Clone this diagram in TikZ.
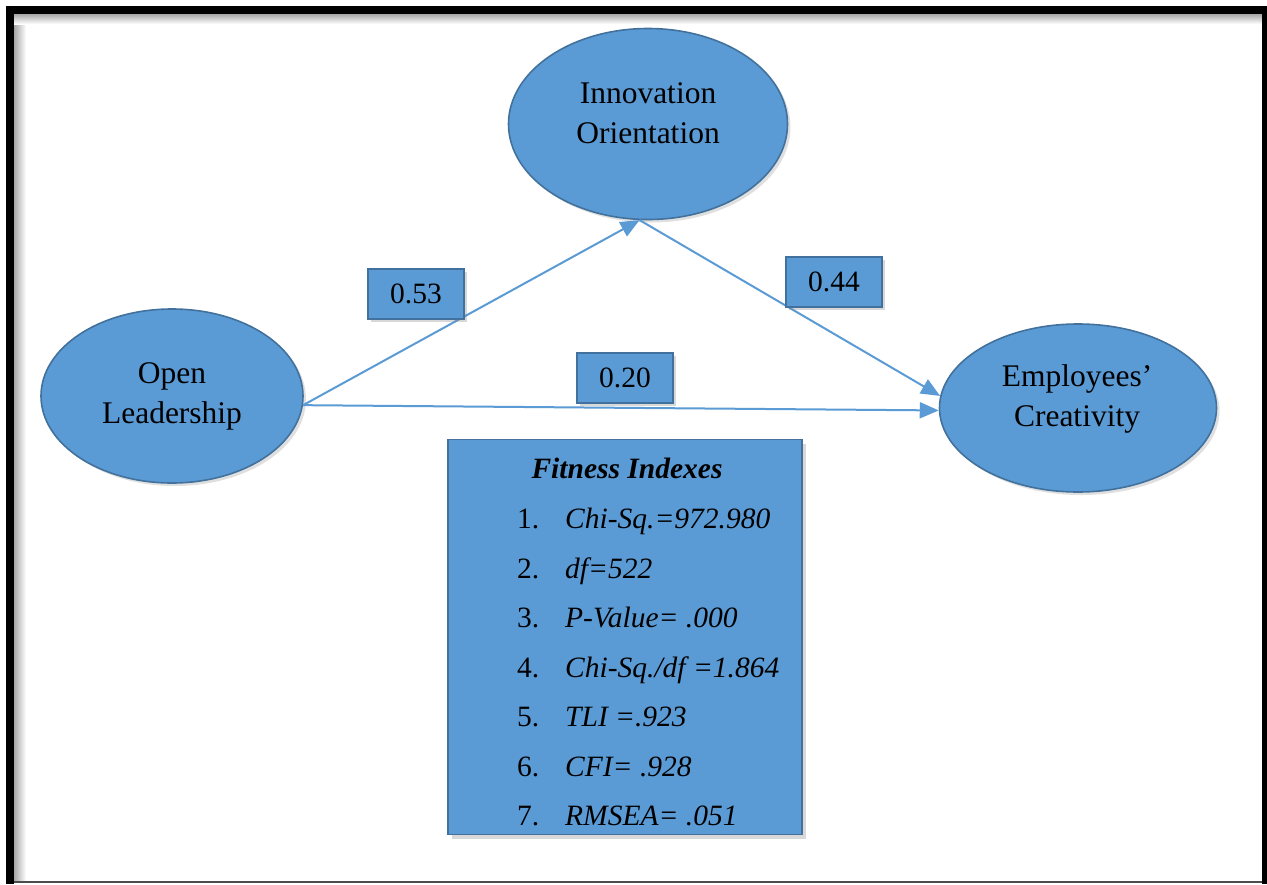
\documentclass[tikz,border=0pt]{standalone}
\usepackage{fontspec}
\setmainfont{Liberation Serif}
\usetikzlibrary{shapes.geometric,arrows.meta,shadows}
\definecolor{fillblue}{HTML}{5B9BD5}
\definecolor{edgeblue}{HTML}{41719C}
\definecolor{lineblue}{HTML}{5B9BD5}
\tikzset{
  ell/.style={ellipse,draw=edgeblue,line width=1.6pt,fill=fillblue,inner sep=0pt,
    drop shadow={shadow xshift=3pt,shadow yshift=-3pt,opacity=0.25}},
  ltext/.style={align=center,font=\fontsize{31.5}{40}\selectfont,inner sep=0pt},
  valbox/.style={draw=edgeblue,line width=1.6pt,fill=fillblue,minimum width=96pt,minimum height=50pt,
    inner sep=0pt,font=\fontsize{29.5}{32}\selectfont,
    drop shadow={shadow xshift=3pt,shadow yshift=-3pt,opacity=0.3}},
  conn/.style={draw=lineblue,line width=2pt,-{Triangle[length=19pt,width=16pt]}},
  idx/.style={anchor=base west,inner sep=0pt,font=\fontsize{29.5}{32}\selectfont},
}
\begin{document}
\begin{tikzpicture}[x=1pt,y=-1pt]
\useasboundingbox (0,0) rectangle (1267,884);
\fill[white] (0,0) rectangle (1267,884);
% inner shadow of frame
\shade[left color=black!35,right color=white] (14,14) rectangle (26,880);
\shade[top color=black!35,bottom color=white] (14,14) rectangle (1262,24);
% frame
\fill[black] (6,6) rectangle (1267,14);
\fill[black] (6,6) rectangle (14,884);
\fill[black] (1262,6) rectangle (1267,884);
\draw[black!70,line width=1.2pt] (14,882) -- (1262,882);

% ellipses
\node[ell,minimum width=279pt,minimum height=191pt] (IO) at (648,124) {};
\node[ltext] (IOt) at (648,113) {Innovation\\Orientation};
\node[ell,minimum width=262pt,minimum height=174pt] (OL) at (172,396) {};
\node[ltext] (OLt) at (172,396) {Open\\Leadership};
\node[ell,minimum width=277pt,minimum height=168pt] (EC) at (1078,408) {};
\node[ltext] (ECt) at (1077,399) {Employees'\\Creativity};

% connectors
\draw[conn] (OL.-4) -- (IO.265);
\draw[conn] (IO.265) -- (EC.175);
\draw[conn] (OL.-4) -- (EC.181);

% value boxes
\node[valbox] (v53) at (416,294) {0.53};
\node[valbox] (v44) at (834,282) {0.44};
\node[valbox] (v20) at (625,378) {0.20};

% fitness box
\node[draw=edgeblue,line width=1.6pt,fill=fillblue,minimum width=354pt,minimum height=395pt,inner sep=0pt,
  drop shadow={shadow xshift=4pt,shadow yshift=-4pt,opacity=0.3}] (FI) at (625,637) {};
\node[anchor=base,inner sep=0pt,font=\fontsize{29.5}{32}\selectfont\bfseries\itshape] (FIt) at (627,478) {Fitness Indexes};
\node[idx] (n1) at (517,528) {1.};
\node[idx] (t1) at (565,528) {\itshape Chi-Sq.=972.980};
\node[idx] (n2) at (517,578) {2.};
\node[idx] (t2) at (565,578) {\itshape df=522};
\node[idx] (n3) at (517,627) {3.};
\node[idx] (t3) at (565,627) {\itshape P-Value= .000};
\node[idx] (n4) at (517,677) {4.};
\node[idx] (t4) at (565,677) {\itshape Chi-Sq./df =1.864};
\node[idx] (n5) at (517,726) {5.};
\node[idx] (t5) at (565,726) {\itshape TLI =.923};
\node[idx] (n6) at (517,776) {6.};
\node[idx] (t6) at (565,776) {\itshape CFI= .928};
\node[idx] (n7) at (517,825) {7.};
\node[idx] (t7) at (565,825) {\itshape RMSEA= .051};
\end{tikzpicture}
\end{document}
